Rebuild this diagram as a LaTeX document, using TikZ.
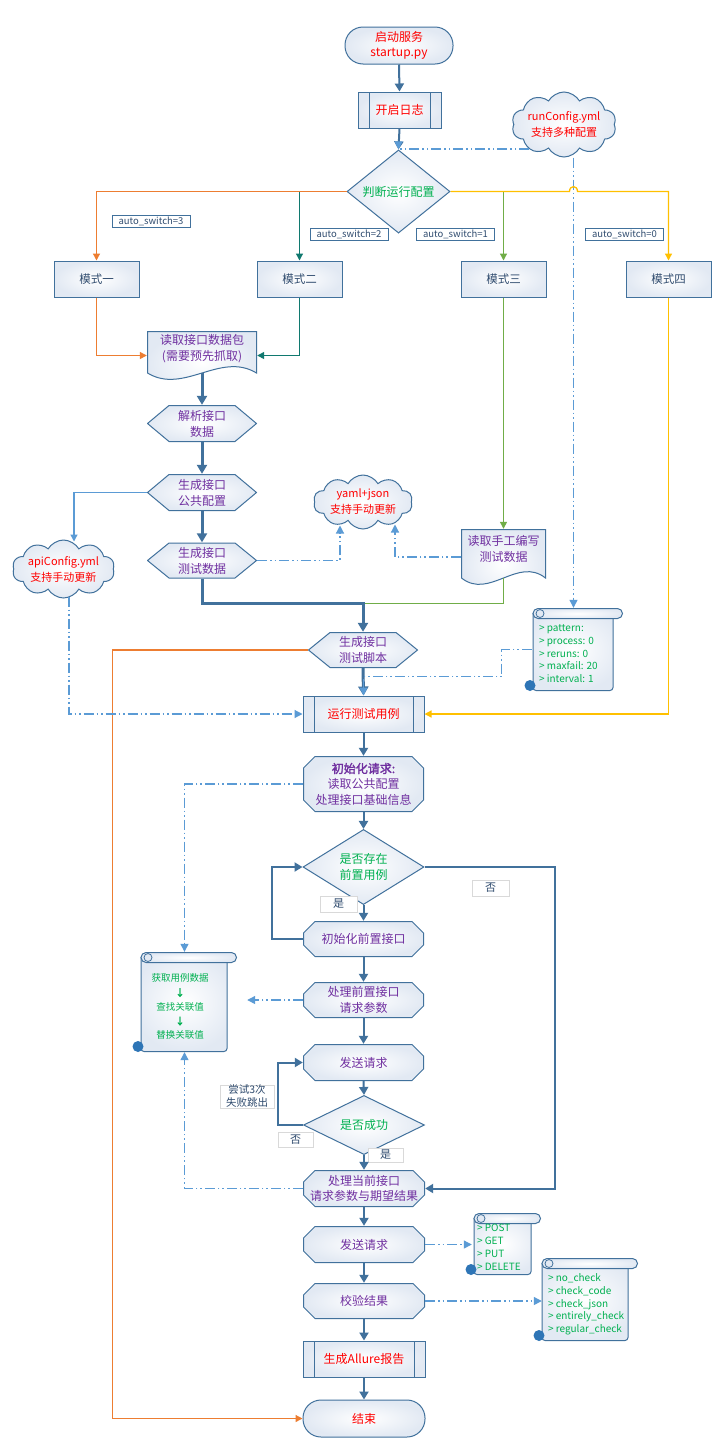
\documentclass[tikz,border=0pt]{standalone}
\usepackage{fontspec}
\setmainfont{Noto Sans CJK SC}[AutoFakeBold=2]
\usetikzlibrary{arrows.meta,shapes.geometric,shapes.symbols,calc}
\definecolor{linec}{HTML}{41719C}
\definecolor{ddc}{HTML}{5B9BD5}
\definecolor{fillc}{HTML}{E2E9F3}
\definecolor{purp}{HTML}{7030A0}
\definecolor{grn}{HTML}{00B050}
\definecolor{orng}{HTML}{ED7D31}
\definecolor{tealc}{HTML}{10796F}
\definecolor{lgrn}{HTML}{70AD47}
\definecolor{yel}{HTML}{FFC000}
\definecolor{lbl}{HTML}{2F4B6E}
\definecolor{curlc}{HTML}{2E75B6}
\definecolor{lgray}{HTML}{D9D9D9}
\newcommand\myfs[2]{\fontsize{#1}{#2}\selectfont}
\newcommand\liftc[2]{\raisebox{#1}[\height][\depth]{\begin{tabular}{@{}c@{}}#2\end{tabular}}}
\newcommand\liftl[3]{\raisebox{#1}[\height][\depth]{\makebox[#2][l]{\begin{tabular}{@{}l@{}}#3\end{tabular}}}}
\def\ppb{path picture bounding box}
\tikzset{
 every node/.style={inner sep=0pt, align=center},
 sz/.style 2 args={minimum width=#1pt, minimum height=#2pt},
 shapefill/.style={inner color=white, outer color=fillc},
 term/.style={draw=linec, line width=1pt, shapefill, rounded corners=18pt, text=red, font=\myfs{12}{15}},
 predef/.style={draw=linec, line width=1pt, shapefill, text=red, font=\myfs{12}{15},
   path picture={\draw[linec, line width=1pt] ([xshift=11pt]\ppb.north west) -- ([xshift=11pt]\ppb.south west) ([xshift=-11pt]\ppb.north east) -- ([xshift=-11pt]\ppb.south east);}},
 hexa/.style={text=purp, font=\myfs{12}{16}, path picture={\shadedraw[shapefill, draw=linec, line width=1pt] ([xshift=.5pt]\ppb.west) -- ([xshift=22pt,yshift=-.5pt]\ppb.north west) -- ([xshift=-22pt,yshift=-.5pt]\ppb.north east) -- ([xshift=-.5pt]\ppb.east) -- ([xshift=-22pt,yshift=.5pt]\ppb.south east) -- ([xshift=22pt,yshift=.5pt]\ppb.south west) -- cycle;}},
 octa/.style={text=purp, font=\myfs{12}{15.5}, path picture={\shadedraw[shapefill, draw=linec, line width=1pt] ([xshift=.5pt,yshift=-12pt]\ppb.north west) -- ([xshift=12pt,yshift=-.5pt]\ppb.north west) -- ([xshift=-12pt,yshift=-.5pt]\ppb.north east) -- ([xshift=-.5pt,yshift=-12pt]\ppb.north east) -- ([xshift=-.5pt,yshift=12pt]\ppb.south east) -- ([xshift=-12pt,yshift=.5pt]\ppb.south east) -- ([xshift=12pt,yshift=.5pt]\ppb.south west) -- ([xshift=.5pt,yshift=12pt]\ppb.south west) -- cycle;}},
 docu/.style={text=purp, font=\myfs{12}{16}, path picture={\shadedraw[shapefill, draw=linec, line width=1pt] ([xshift=.5pt,yshift=-.5pt]\ppb.north west) -- ([xshift=-.5pt,yshift=-.5pt]\ppb.north east) -- ([xshift=-.5pt,yshift=7pt]\ppb.south east) .. controls ($(\ppb.south east)!.333!(\ppb.south west)+(0pt,29pt)$) and ($(\ppb.south east)!.667!(\ppb.south west)+(0pt,-15pt)$) .. ([xshift=.5pt,yshift=7pt]\ppb.south west) -- cycle;}},
 scroll/.style={text=grn, path picture={
   \shadedraw[shapefill, draw=linec, line width=1pt, rounded corners=3pt] ([xshift=9pt,yshift=-5pt]\ppb.north west) -- ([xshift=9pt,yshift=.5pt]\ppb.south west) -- ([xshift=-10pt,yshift=.5pt]\ppb.south east) -- ([xshift=-10pt,yshift=-10pt]\ppb.north east);
   \shadedraw[shapefill, draw=linec, line width=1pt, rounded corners=5pt] ([xshift=9pt,yshift=-.5pt]\ppb.north west) rectangle ([xshift=-.5pt,yshift=-10.5pt]\ppb.north east);
   \filldraw[fill=fillc, draw=linec, line width=.8pt] ([xshift=16pt,yshift=-5.5pt]\ppb.north west) circle (4pt);
   \fill[curlc] ([xshift=6pt,yshift=5.5pt]\ppb.south west) circle (5.5pt);}},
 cloudn/.style={cloud, cloud puffs=10, cloud puff arc=120, cloud ignores aspect, draw=linec, line width=1pt, shapefill, text=red, font=\myfs{11}{16}},
 dmd/.style={diamond, draw=linec, line width=1pt, shapefill, text=grn, font=\myfs{12}{16}},
 swl/.style={draw=linec, line width=.8pt, fill=white, text=lbl, font=\myfs{9.5}{11}, minimum width=78pt, minimum height=12pt},
 ynl/.style={draw=lgray, line width=.8pt, fill=white, text=lbl, font=\myfs{11}{13}},
 mode/.style={draw=linec, line width=1pt, shapefill, text=lbl, font=\myfs{11.5}{14}, minimum width=85pt, minimum height=36pt},
 flow/.style={draw=linec, line width=2pt, -{Triangle[length=8pt,width=9pt]}},
 flowk/.style={draw=linec, line width=3pt, -{Triangle[length=9pt,width=10pt]}},
 dd/.style={draw=ddc, line width=1.2pt, dash pattern=on 10pt off 3pt on 1.5pt off 3pt on 1.5pt off 3pt, -{Triangle[length=8pt,width=8pt]}},
 cl/.style={line width=1.3pt, -{Triangle[length=7pt,width=7pt]}},
}
\begin{document}
\begin{tikzpicture}[x=1pt,y=-1pt]
\fill[white] (0,0) rectangle (725,1454);
\useasboundingbox (0,0) rectangle (725,1454);
% nodes
\node[term, sz={108}{37}] (start) at (399,45.5) {启动服务\\startup.py};
\node[predef, sz={83}{36}] (log) at (399.5,110) {开启日志};
\node[dmd, sz={103}{69}] (dia) at (398.5,191.5) {判断运行配置};
\node[cloudn, sz={98}{65}] (rc) at (564,124.5) {runConfig.yml\\支持多种配置};
\node[mode] (m1) at (96.5,279) {模式一};
\node[mode] (m2) at (299.5,279) {模式二};
\node[mode] (m3) at (503.5,279) {模式三};
\node[mode] (m4) at (668.5,279) {模式四};
\node[swl] (s3) at (151,221) {auto\_switch=3};
\node[swl] (s2) at (349,234) {auto\_switch=2};
\node[swl] (s1) at (455.5,234) {auto\_switch=1};
\node[swl] (s0) at (624.5,234) {auto\_switch=0};
\node[docu, sz={110}{49}] (doc) at (202,355.5) {\liftc{6.5pt}{读取接口数据包\\(需要预先抓取)}};
\node[hexa, sz={110}{37}] (jx) at (202,423.5) {解析接口\\数据};
\node[hexa, sz={110}{37}] (gg) at (202,492.5) {生成接口\\公共配置};
\node[hexa, sz={110}{36}] (cs) at (202,560.5) {生成接口\\测试数据};
\node[cloudn, sz={99}{58}] (api) at (63.5,569) {apiConfig.yml\\支持手动更新};
\node[cloudn, sz={99}{54}] (yj) at (363,502) {yaml+json\\支持手动更新};
\node[docu, sz={85}{56}] (man) at (503.5,557) {\liftc{7pt}{读取手工编写\\测试数据}};
\node[hexa, sz={110}{36}] (script) at (363,650) {生成接口\\测试脚本};
\node[scroll, sz={99}{83}, font=\myfs{10}{12.8}] (pat) at (573.5,649.5) {\liftl{-5pt}{69pt}{> pattern:\\> process: 0\\> reruns: 0\\> maxfail: 20\\> interval: 1}};
\node[predef, sz={121}{36}] (run) at (363.5,714) {运行测试用例};
\node[octa, sz={121}{56}] (init) at (363.5,784) {\textbf{初始化请求:}\\读取公共配置\\处理接口基础信息};
\node[dmd, sz={121}{54}] (q1) at (363.5,867) {是否存在\\前置用例};
\node[ynl, sz={37}{16}] (y1) at (338.5,904) {是};
\node[ynl, sz={37}{16}] (n1) at (490.5,888) {否};
\node[octa, sz={121}{36}] (pre) at (363.5,939) {初始化前置接口};
\node[octa, sz={121}{36}] (ppre) at (363.5,1000) {处理前置接口\\请求参数};
\node[octa, sz={121}{37}] (send1) at (363.5,1062.5) {发送请求};
\node[scroll, sz={105}{100}, font=\myfs{9.5}{14.25}] (get) at (184.5,1002) {\liftc{-5.5pt}{获取用例数据\\\textbf{↓}\\查找关联值\\\textbf{↓}\\替换关联值}\hspace{9pt}};
\node[ynl, sz={54}{23}, font=\myfs{10.5}{13}] (try) at (247,1096.5) {尝试3次\\失败跳出};
\node[dmd, sz={121}{34}] (ok) at (364,1125) {是否成功};
\node[ynl, sz={35}{15}] (n2) at (295.5,1139.5) {否};
\node[ynl, sz={35}{14}] (y2) at (385.5,1155) {是};
\node[octa, sz={122}{37}] (cur) at (364,1188.5) {处理当前接口\\请求参数与期望结果};
\node[octa, sz={122}{37}] (send2) at (364,1244.5) {发送请求};
\node[octa, sz={122}{36}] (chk) at (364,1301) {校验结果};
\node[predef, sz={122}{36}] (rep) at (364,1359) {生成Allure报告};
\node[term, sz={122}{37}] (end) at (364,1418.5) {结束};
\node[scroll, sz={76}{62}, font=\myfs{10}{13}] (post) at (503,1244) {\liftl{-4pt}{52pt}{> POST\\> GET\\> PUT\\> DELETE}};
\node[scroll, sz={105}{83}, font=\myfs{10}{12.8}] (chkl) at (585.5,1299.5) {\liftl{-5pt}{75pt}{> no\_check\\> check\_code\\> check\_json\\> entirely\_check\\> regular\_check}};
% connectors
\draw[flow] (start.south) -- (log.north);
\draw[flow] (log.south) -- (dia.north);
\draw[dd] (rc.215) -| (dia.north);
\draw[dd] (rc.south -| pat.north) -- (pat.north);
\draw[cl, tealc] (dia.west) -| (m2.north);
\draw[cl, orng] (dia.west) -| (m1.north);
\draw[cl, lgrn] (dia.east) -| (m3.north);
\draw[cl, yel] (dia.east) -- (569.5,191.5) .. controls (569.5,185) and (577.5,185) .. (577.5,191.5) -| (m4.north);
\draw[cl, orng] (m1.south) |- (doc.west);
\draw[cl, tealc] (m2.south) |- (doc.east);
\draw[flowk] ([yshift=7pt]doc.south) -- (jx.north);
\draw[flowk] (jx.south) -- (gg.north);
\draw[flowk] (gg.south) -- (cs.north);
\draw[cl, ddc] (gg.west) -| ([xshift=10.5pt,yshift=-2pt]api.north);
\draw[dd] (cs.east) -| ([xshift=-23pt,yshift=4pt]yj.south);
\draw[dd] (man.west) -| ([xshift=32pt,yshift=5pt]yj.south);
\draw[cl, lgrn] (m3.south) -- (man.north);
\coordinate (j1) at (363,603.5);
\draw[cl, lgrn, -] ([yshift=7pt]man.south) |- (j1);
\draw[flowk] (cs.south) |- (j1) -- (script.north);
\draw[cl, orng] (script.west) -- ++(-195,0) |- (end.west);
\draw[flowk] (script.south) -- (run.north);
\draw[dd] ([xshift=8pt]pat.west) -- ++(-30,0) |- ([yshift=19pt]run.north) -- (run.north);
\draw[dd] ([xshift=5.5pt,yshift=2pt]api.south) |- (run.west);
\draw[cl, yel] (m4.south) |- (run.east);
\draw[flow] (run.south) -- (init.north);
\draw[flow] (init.south) -- (q1.north);
\draw[flow] (q1.south) -- (pre.north);
\draw[flow] (pre.south) -- (ppre.north);
\draw[flow] (ppre.south) -- (send1.north);
\draw[flow] (send1.south) -- (ok.north);
\draw[flow] (ok.south) -- (cur.north);
\draw[flow] (cur.south) -- (send2.north);
\draw[flow] (send2.south) -- (chk.north);
\draw[flow] (chk.south) -- (rep.north);
\draw[flow] (rep.south) -- (end.north);
\draw[flow] (pre.west) -- ++(-31,0) |- (q1.west);
\draw[flow] (q1.east) -- ++(130,0) |- (cur.east);
\draw[flow] (ok.west) -- ++(-25,0) |- (send1.west);
\draw[dd] (init.west) -| (get.north);
\draw[dd, shorten >=10pt] (ppre.west) -- (ppre.west -| get.east);
\draw[dd] (cur.west) -| (get.south);
\draw[dd, shorten >=-7pt] (send2.east) -- (send2.east -| post.west);
\draw[dd, shorten >=-9pt] (chk.east) -- (chk.east -| chkl.west);
\end{tikzpicture}
\end{document}
